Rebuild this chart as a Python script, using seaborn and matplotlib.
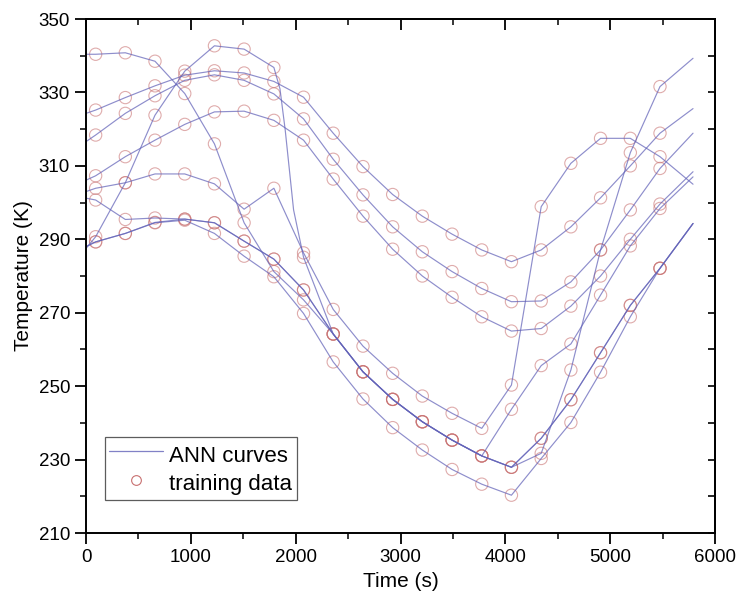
import numpy as np
import pandas as pd
import matplotlib
matplotlib.use("Agg")
import matplotlib.pyplot as plt
import seaborn as sns
from matplotlib.lines import Line2D

# sampling times of the training data (s)
times = [92, 375, 658, 942, 1225, 1508, 1792, 2075, 2358, 2642,
         2925, 3208, 3492, 3775, 4058, 4342, 4625, 4908, 5192, 5475]
t_first = 0
t_last = 5790

# temperatures (K) at the training times, one list per case
temp_a = [340.4, 340.8, 338.5, 329.7, 316.0, 294.5, 281.2, 273.5, 264.2, 253.9,
          246.4, 240.3, 235.3, 231.0, 243.7, 255.6, 261.5, 274.8, 288.2, 298.4]
temp_b = [290.7, 305.4, 323.8, 335.8, 342.7, 341.8, 336.8, 285.1, 264.2, 253.9,
          246.4, 240.3, 235.3, 231.0, 227.9, 231.7, 254.4, 287.1, 313.6, 331.6]
temp_c = [303.9, 305.4, 307.8, 307.8, 305.1, 298.2, 303.9, 286.3, 270.9, 260.9,
          253.5, 247.3, 242.6, 238.5, 250.3, 298.9, 310.7, 317.5, 317.5, 312.5]
temp_d = [300.7, 295.4, 295.8, 295.5, 294.5, 289.5, 284.6, 276.2, 264.2, 253.9,
          246.4, 240.3, 235.3, 231.0, 227.9, 235.8, 246.3, 259.1, 272.0, 282.1]
temp_e = [289.3, 291.6, 294.6, 295.5, 294.5, 289.5, 284.6, 276.2, 264.2, 253.9,
          246.4, 240.3, 235.3, 231.0, 227.9, 235.8, 246.3, 259.1, 272.0, 282.1]
temp_f = [289.3, 291.6, 294.5, 295.2, 291.6, 285.4, 279.8, 269.8, 256.6, 246.5,
          238.7, 232.6, 227.3, 223.3, 220.3, 230.3, 240.1, 253.8, 268.9, 282.1]
temp_g = [325.2, 328.6, 331.8, 334.7, 335.9, 335.3, 333.0, 328.7, 318.9, 309.8,
          302.2, 296.3, 291.4, 287.1, 283.9, 287.1, 293.4, 301.3, 310.0, 318.9]
temp_h = [318.4, 324.3, 329.1, 333.3, 334.8, 333.3, 329.6, 322.8, 311.8, 302.1,
          293.4, 286.6, 281.2, 276.6, 273.0, 273.2, 278.4, 287.1, 298.0, 309.3]
temp_i = [307.3, 312.5, 317.0, 321.3, 324.7, 324.9, 322.4, 317.0, 306.4, 296.3,
          287.3, 280.0, 274.2, 268.9, 265.0, 265.7, 271.8, 280.0, 290.0, 299.6]

# ANN curve values at the ends of the time range
curve_names = ["a", "b", "c", "d", "e", "f", "g", "h", "i"]
start_temps = [340.4, 287.5, 303.0, 301.2, 288.0, 288.0, 324.3, 316.6, 306.1]
end_temps = [307.0, 339.3, 305.0, 294.3, 294.3, 294.3, 325.6, 318.9, 308.4]

# extra points read on the steep drop of curve b
b_drop_t = [1850, 1900, 1980]
b_drop_T = [331.0, 319.8, 298.0]

x_ticks = [0, 1000, 2000, 3000, 4000, 5000, 6000]
x_minor = [500, 1500, 2500, 3500, 4500, 5500]
y_ticks = [210, 230, 250, 270, 290, 310, 330, 350]
y_minor = [220, 240, 260, 280, 300, 320, 340]

marker_sets = [temp_a, temp_b, temp_c, temp_d, temp_e, temp_f, temp_g, temp_h, temp_i]

line_rows = []
point_rows = []
for name, vals, t0, t1 in zip(curve_names, marker_sets, start_temps, end_temps):
    tt = [t_first] + times + [t_last]
    TT = [t0] + vals + [t1]
    if name == "b":
        tt = tt + b_drop_t
        TT = TT + b_drop_T
    for t, T in zip(tt, TT):
        line_rows.append({"time": t, "temp": T, "curve": name})
    for t, T in zip(times, vals):
        point_rows.append({"time": t, "temp": T, "curve": name})

lines_df = pd.DataFrame(line_rows).sort_values(["curve", "time"])
points_df = pd.DataFrame(point_rows)

sns.set_theme(style="white")
plt.rcParams["font.family"] = ["Liberation Sans", "DejaVu Sans"]
plt.rcParams["text.color"] = "black"
plt.rcParams["axes.labelcolor"] = "black"
plt.rcParams["xtick.color"] = "black"
plt.rcParams["ytick.color"] = "black"

line_color = "#6262b8"
marker_color = "#c87070"

fig = plt.figure(figsize=(7.37, 5.96), dpi=100)
ax = fig.add_axes([0.1167, 0.1057, 0.8535, 0.8624])

sns.lineplot(data=lines_df, x="time", y="temp", units="curve", estimator=None,
             color=line_color, lw=0.85, alpha=0.72, ax=ax, legend=False)
sns.scatterplot(data=points_df, x="time", y="temp", ax=ax, marker="o", s=78,
                facecolors="none", edgecolor=marker_color, linewidth=0.8,
                alpha=0.58, legend=False)

ax.set_xlim(0, 6000)
ax.set_ylim(210, 350)
ax.set_xticks(x_ticks)
ax.set_xticks(x_minor, minor=True)
ax.set_yticks(y_ticks)
ax.set_yticks(y_minor, minor=True)
ax.tick_params(which="both", bottom=True, left=True, top=False, right=False)
ax.tick_params(which="major", direction="out", length=8, width=1.3,
               labelsize=13.5, colors="black")
ax.tick_params(which="minor", direction="out", length=4.5, width=1.1)

for side in ax.spines.values():
    side.set_color("black")
    side.set_linewidth(1.4)

top = ax.secondary_xaxis("top")
top.set_xticks(x_ticks)
top.set_xticks(x_minor, minor=True)
top.tick_params(which="both", top=True, direction="in", labeltop=False)
top.tick_params(which="major", length=8, width=1.3)
top.tick_params(which="minor", length=4.5, width=1.1)
top.spines["top"].set_linewidth(1.4)

right = ax.secondary_yaxis("right")
right.set_yticks(y_ticks)
right.set_yticks(y_minor, minor=True)
right.tick_params(which="both", right=True, direction="in", labelright=False,
                  length=5, width=1.2)
right.spines["right"].set_linewidth(1.4)

ax.set_xlabel("Time (s)", fontsize=15, labelpad=4)
ax.set_ylabel("Temperature (K)", fontsize=15, labelpad=4)

handles = [Line2D([], [], color=line_color, lw=0.9, alpha=0.8),
           Line2D([], [], marker="o", ls="none", mfc="none", mec=marker_color,
                  ms=7, mew=0.8)]
leg = ax.legend(handles, ["ANN curves", "training data"], loc="lower left",
                bbox_to_anchor=(0.03, 0.064), fontsize=16, frameon=True,
                fancybox=False, handlelength=2.4, handletextpad=0.3,
                handleheight=1.45, borderpad=0.2, labelspacing=0.08,
                borderaxespad=0)
leg.get_frame().set_edgecolor("#333333")
leg.get_frame().set_linewidth(0.9)

fig.savefig("out.png", dpi=100)
